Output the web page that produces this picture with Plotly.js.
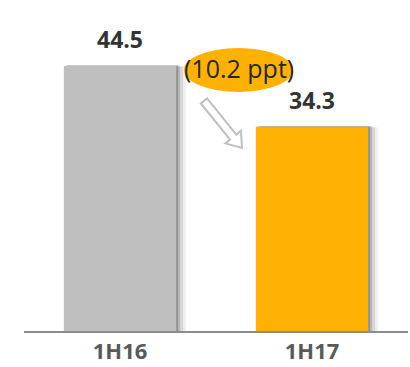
<!DOCTYPE html>
<html><head><meta charset="utf-8">
<script src="https://cdn.plot.ly/plotly-3.0.1.min.js"></script>
<style>html,body{margin:0;padding:0;background:#fff}#c{width:410px;height:367px}</style>
</head><body><div id="c"></div>
<script>
const categories = ['1H16', '1H17'];
const values = [44.5, 34.3];
const valueLabels = ['44.5', '34.3'];
const barColors = ['#BFBFBF', '#FFB100'];
const changeLabel = '(10.2 ppt)';

const W = 410, H = 367, ML = 24, MR = 2, MT = 0, MB = 36;
const PW = W - ML - MR, PH = H - MT - MB;
const yMax = 55.6;
const bw = 0.585;
const pxPerCat = PW / 2;

const traces = [];
// soft shadow layers
[[10,0.06],[7,0.1],[4,0.14],[2,0.2]].forEach(([d,a]) => {
  traces.push({
    type: 'bar', x: categories, y: values.map(v => v + 0.2 - d*0.03),
    width: bw, offset: -bw/2 + d/pxPerCat,
    marker: {color: `rgba(0,0,0,${a})`, line: {width: 0}},
    hoverinfo: 'skip', showlegend: false
  });
});
traces.push({
  type: 'bar', x: categories, y: values, width: bw,
  marker: {color: barColors, line: {width: 0}},
  showlegend: false
});

const toPx = (X, Y) => [(X - ML) / PW, (H - MB - Y) / PH];
function arrowPath(x0, y0, x1, y1, sw, hw, hl) {
  const dx = x1 - x0, dy = y1 - y0, L = Math.hypot(dx, dy);
  const ux = dx / L, uy = dy / L, nx = -uy, ny = ux;
  const nxk = x0 + ux * (L - hl), nyk = y0 + uy * (L - hl);
  const pts = [
    [x0 + nx*sw, y0 + ny*sw], [nxk + nx*sw, nyk + ny*sw], [nxk + nx*hw, nyk + ny*hw],
    [x1, y1], [nxk - nx*hw, nyk - ny*hw], [nxk - nx*sw, nyk - ny*sw], [x0 - nx*sw, y0 - ny*sw]
  ].map(p => toPx(p[0], p[1]));
  return 'M' + pts.map(p => p[0].toFixed(4) + ',' + p[1].toFixed(4)).join(' L') + ' Z';
}

const ell = [toPx(184, 92), toPx(293, 48)];
const lab = toPx(239, 68);
const layout = {
  width: W, height: H,
  margin: {l: ML, r: MR, t: MT, b: MB, pad: 0},
  paper_bgcolor: '#fff', plot_bgcolor: '#fff',
  barmode: 'overlay',
  font: {family: 'Open Sans, sans-serif'},
  xaxis: {
    type: 'category', range: [-0.5, 1.5], showgrid: false, zeroline: false,
    showline: true, linecolor: '#8C8C8C', linewidth: 2,
    ticks: '', tickfont: {size: 22, color: '#595959', weight: 'bold'}, ticklabelstandoff: 0
  },
  yaxis: {range: [0, yMax], visible: false, showgrid: false, zeroline: false},
  shapes: [
    {type: 'circle', xref: 'paper', yref: 'paper', x0: ell[0][0], y0: ell[0][1], x1: ell[1][0], y1: ell[1][1],
     fillcolor: '#FFB100', line: {width: 0}, layer: 'above'},
    {type: 'path', xref: 'paper', yref: 'paper', path: arrowPath(204, 101, 242, 148, 4, 10, 14),
     fillcolor: '#FFFFFF', line: {color: '#BFBFBF', width: 2}, layer: 'above'}
  ],
  annotations: categories.map((c, i) => ({
    x: c, y: values[i], xref: 'x', yref: 'y', text: valueLabels[i], showarrow: false,
    yanchor: 'bottom', yshift: 9, font: {size: 23, color: '#333333', weight: 'bold'}
  })).concat([{
    xref: 'paper', yref: 'paper', x: lab[0], y: lab[1],
    text: changeLabel, showarrow: false, xanchor: 'center', yanchor: 'middle',
    font: {size: 25, color: '#262626'}
  }])
};
Plotly.newPlot('c', traces, layout, {displayModeBar: false, staticPlot: true});
</script></body></html>
